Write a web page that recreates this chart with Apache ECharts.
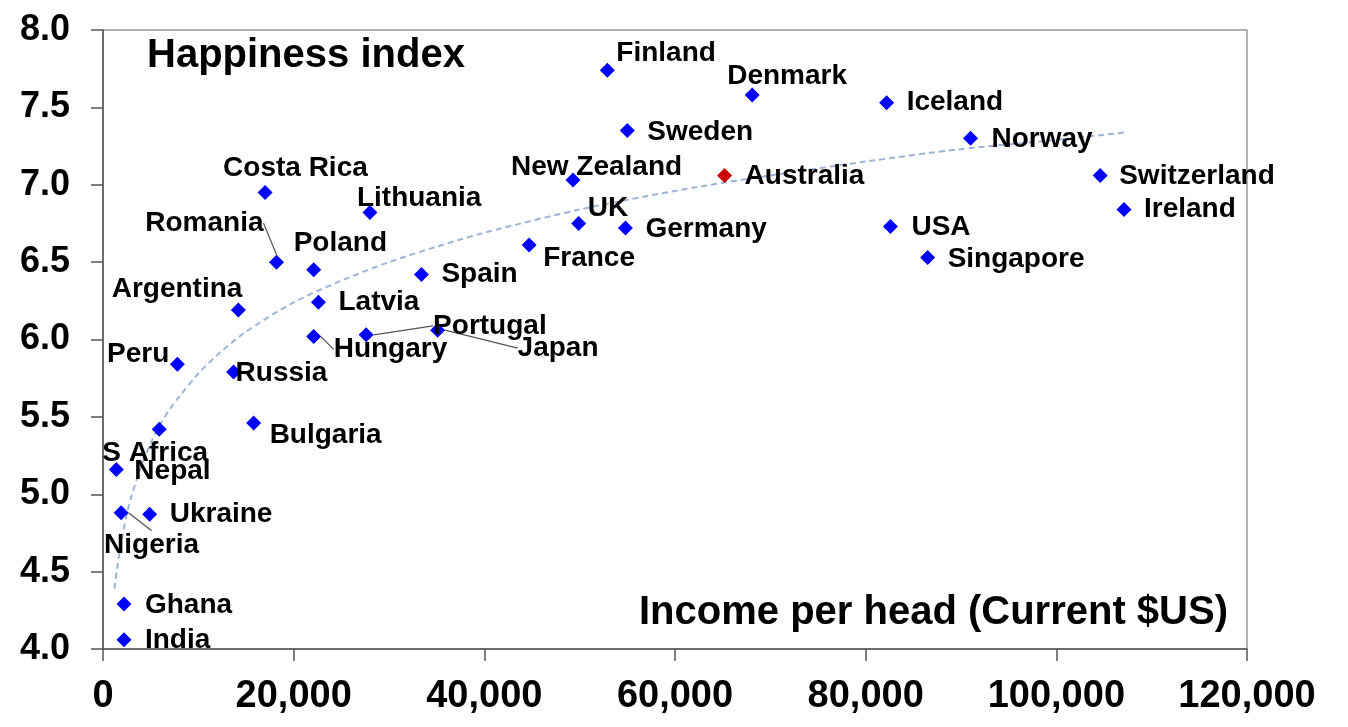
<!DOCTYPE html>
<html>
<head>
<meta charset="utf-8">
<script src="https://cdn.jsdelivr.net/npm/echarts@6/dist/echarts.min.js"></script>
<style>
html,body{margin:0;padding:0;background:#fff;}
#chart{width:1348px;height:727px;}
</style>
</head>
<body>
<div id="chart"></div>
<script>
// ---- data ----
const countries = ['Finland','Denmark','Iceland','Sweden','Norway','New Zealand','Australia','Switzerland','Ireland','UK','Germany','USA','France','Singapore','Costa Rica','Lithuania','Romania','Poland','Spain','Latvia','Argentina','Hungary','Portugal','Japan','Peru','Russia','Bulgaria','S Africa','Nepal','Nigeria','Ukraine','Ghana','India'];
const income = [52900,68100,82200,55000,91000,49300,65200,104600,107100,49900,54800,82600,44700,86500,17000,28000,18200,22100,33400,22600,14200,22100,27600,35100,7800,13700,15800,5900,1400,1900,4900,2200,2200];
const happiness = [7.74,7.58,7.53,7.35,7.30,7.03,7.06,7.06,6.84,6.75,6.72,6.73,6.61,6.53,6.95,6.82,6.50,6.45,6.42,6.24,6.19,6.02,6.03,6.06,5.84,5.79,5.46,5.42,5.16,4.88,4.87,4.29,4.06];
const highlighted = ['Australia'];
const leaderLines = ['Romania','Hungary','Portugal','Japan','Nigeria'];
// dashed trend curve
const trendIncome = [1200,1500,2000,2500,3000,4000,5000,6000,7000,8000,10000,12000,15000,20000,25000,30000,35000,40000,50000,60000,70000,80000,90000,100000,107500];
const trendHappiness = [4.39,4.53,4.72,4.87,4.99,5.18,5.33,5.45,5.55,5.63,5.78,5.90,6.05,6.24,6.38,6.50,6.60,6.69,6.84,6.96,7.06,7.15,7.23,7.29,7.34];
const yTickLabels = ['4.0','4.5','5.0','5.5','6.0','6.5','7.0','7.5','8.0'];
const titleText = 'Happiness index';
const xTitleText = 'Income per head (Current $US)';

// ---- label placement (style): [dx, dy, align] from point centre ----
const place = {
  'Finland':[9,-17],'Denmark':[-25,-19],'Iceland':[20,0],'Sweden':[20,2],'Norway':[21,1],
  'New Zealand':[-62,-13],'Australia':[20,1],'Switzerland':[19,1],'Ireland':[20,0],'UK':[9,-15],
  'Germany':[20,1],'USA':[21,1],'France':[14,13],'Singapore':[20,2],'Costa Rica':[-42,-24],
  'Lithuania':[-13,-14],'Romania':[-13,-39,'right'],'Poland':[-20,-27],'Spain':[20,0],'Latvia':[20,0],
  'Argentina':[4,-21,'right'],'Hungary':[20,13],'Portugal':[67,-9],'Japan':[80,18],'Peru':[-8,-10,'right'],
  'Russia':[2,1],'Bulgaria':[16,12],'S Africa':[-57,24],'Nepal':[18,2],'Nigeria':[-17,32],
  'Ukraine':[20,0],'Ghana':[21,1],'India':[21,1]
};

const FONT = "'Liberation Sans', Arial, sans-serif";
const scatterData = countries.map((c, i) => {
  const item = {name: c, value: [income[i], happiness[i]]};
  if (highlighted.indexOf(c) >= 0) item.itemStyle = {color: '#cc0000'};
  if (leaderLines.indexOf(c) >= 0) item.labelLine = {show: true, lineStyle: {color: '#555', width: 1.3, opacity: 1}};
  return item;
});
const trendData = trendIncome.map((x, i) => [x, trendHappiness[i]]);

const chart = echarts.init(document.getElementById('chart'));
chart.setOption({
  animation: false,
  backgroundColor: '#fff',
  title: [
    {text: titleText, left: 147, top: 36, padding: 0,
     textStyle: {fontFamily: FONT, fontSize: 40, fontWeight: 'bold', color: '#000', lineHeight: 40}},
    {text: xTitleText, right: 120, top: 593, padding: 0,
     textStyle: {fontFamily: FONT, fontSize: 40, fontWeight: 'bold', color: '#000', lineHeight: 40}}
  ],
  grid: {left: 103, right: 101, top: 30, bottom: 78, show: true, borderColor: '#999', borderWidth: 1.5, backgroundColor: 'transparent'},
  xAxis: {
    type: 'value', min: 0, max: 120000, interval: 20000,
    axisLine: {show: true, lineStyle: {color: '#555', width: 1.5}},
    axisTick: {show: true, length: 12, lineStyle: {color: '#555', width: 1.5}},
    splitLine: {show: false},
    axisLabel: {fontFamily: FONT, fontSize: 38, fontWeight: 'bold', color: '#000', margin: 29,
      formatter: v => v.toLocaleString('en-US')}
  },
  yAxis: {
    type: 'value', min: 4, max: 8, interval: 0.5,
    axisLine: {show: true, lineStyle: {color: '#555', width: 1.5}},
    axisTick: {show: true, length: 12, lineStyle: {color: '#555', width: 1.5}},
    splitLine: {show: false},
    axisLabel: {fontFamily: FONT, fontSize: 36, fontWeight: 'bold', color: '#000', margin: 33,
      formatter: v => yTickLabels[Math.round((v - 4) / 0.5)]}
  },
  series: [
    {
      type: 'line', data: trendData, smooth: 0.3, showSymbol: false, silent: true, z: 1,
      lineStyle: {color: '#9fb3d6', width: 2, type: [6, 4]}
    },
    {
      type: 'scatter', data: scatterData, symbol: 'diamond', symbolSize: 15, z: 3,
      itemStyle: {color: '#0000ff', opacity: 1},
      label: {show: true, formatter: p => p.name, fontFamily: FONT, fontSize: 28, fontWeight: 'bold', color: '#000', opacity: 1},
      labelLine: {show: false},
      labelLayout: function (params) {
        const p = place[countries[params.dataIndex]] || [18, 0];
        const r = params.rect;
        return {x: r.x + r.width / 2 + p[0], y: r.y + r.height / 2 + p[1], align: p[2] || 'left', verticalAlign: 'middle'};
      }
    }
  ]
});
</script>
</body>
</html>
